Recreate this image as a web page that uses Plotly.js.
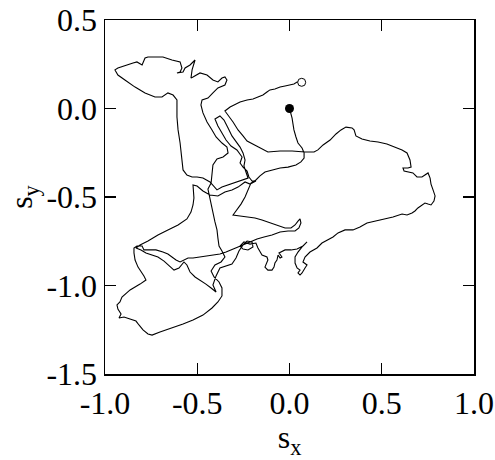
<!DOCTYPE html>
<html>
<head>
<meta charset="utf-8">
<script src="https://cdn.plot.ly/plotly-3.0.1.min.js"></script>
<style>html,body{margin:0;padding:0;background:#fff;}#chart{width:495px;height:460px;}</style>
</head>
<body>
<div id="chart"></div>
<script>
// trajectory of the spin vector (s_x, s_y)
const sx = [
0,0.008,0.014,0.019,0.024,0.035,0.046,0.068,0.079,0.079,0.062,0.035,-0.008,-0.051,-0.095,-0.133,-0.160,-0.182,-0.209,
-0.225,-0.241,-0.263,-0.285,-0.306,-0.268,-0.230,-0.187,-0.149,-0.106,-0.062,-0.024,0.008,0.030,0.046,0.057,0.062,0.051,0.030,-0.008,-0.051,-0.095,-0.138,-0.176,-0.214,-0.252,
-0.279,-0.312,-0.344,-0.377,-0.415,-0.453,-0.485,-0.523,-0.550,-0.572,-0.593,-0.615,-0.637,-0.659,-0.686,-0.724,-0.761,-0.789,-0.799,-0.827,-0.843,
-0.843,-0.837,-0.821,-0.789,-0.778,-0.810,-0.864,-0.908,-0.919,-0.935,-0.930,-0.913,-0.924,-0.897,-0.864,-0.832,-0.816,-0.794,-0.767,-0.745,-0.702,-0.637,-0.577,-0.523,-0.469,-0.420,-0.388,-0.366,-0.366,-0.382,-0.409,-0.425,-0.404,-0.371,-0.350,-0.366,-0.382,-0.388,-0.393,-0.404,-0.415,-0.425,-0.436,-0.442,-0.425,-0.420,-0.415,-0.393,-0.360,-0.333,-0.339,-0.366,-0.398,-0.420,-0.447,-0.469,-0.480,-0.474,
-0.442,-0.415,-0.388,-0.350,-0.339,-0.350,-0.366,-0.388,-0.415,-0.447,-0.485,-0.523,-0.534,-0.528,-0.512,-0.539,-0.566,-0.577,-0.610,-0.593,-0.583,-0.593,-0.637,-0.686,-0.767,-0.783,-0.799,-0.827,-0.848,-0.892,-0.930,-0.946,-0.930,-0.892,-0.837,-0.783,-0.729,-0.691,-0.659,-0.631,-0.610,-0.610,-0.604,-0.593,-0.583,-0.577,-0.556,-0.528,
-0.501,-0.469,-0.431,-0.409,-0.393,-0.366,-0.322,-0.268,-0.225,-0.236,-0.247,-0.241,-0.252,-0.268,-0.290,-0.312,-0.333,-0.355,-0.377,-0.404,-0.388,-0.366,-0.344,-0.317,-0.285,-0.257,-0.268,-0.252,-0.230,-0.220,-0.203,-0.182,-0.214,-0.241,-0.279,-0.312,-0.350,-0.388,-0.431,-0.469,-0.501,-0.523,
-0.518,-0.523,-0.534,-0.556,-0.604,-0.659,-0.713,-0.767,-0.810,-0.832,
-0.805,-0.778,-0.745,-0.713,-0.680,-0.653,-0.626,-0.599,-0.572,-0.556,-0.539,-0.512,-0.485,-0.453,-0.425,-0.398,-0.415,-0.398,-0.377,-0.344,-0.312,-0.290,-0.274,-0.252,
-0.230,-0.203,-0.198,-0.225,-0.252,-0.268,-0.247,
-0.214,-0.182,-0.171,-0.149,-0.122,-0.117,-0.133,-0.117,-0.095,-0.084,-0.079,-0.068,-0.062,-0.051,-0.041,-0.057,-0.024,0.008,0.041,0.073,0.095,0.068,0.046,0.030,0.030,0.041,0.057,0.046,0.057,0.068,0.084,0.095,0.073,0.084,0.111,0.149,0.176,0.203,0.236,0.263,0.301,0.344,0.382,0.420,0.463,0.491,0.534,0.561,0.610,0.637,0.664,0.680,0.696,0.718,0.734,0.751,0.767,0.783,0.789,0.778,0.767,0.762,0.751,0.734,0.718,0.691,0.669,0.621,0.615,0.642,0.659,0.653,0.637,0.610,0.572,0.528,0.480,0.436,0.393,0.360,0.350,0.339,0.306,0.279,0.252,0.220,0.182,0.154,0.133,0.084,0.014,-0.051,-0.117,-0.160,-0.203,-0.230,-0.252,-0.279,-0.306,-0.333,-0.350,-0.322,-0.295,-0.268,-0.230,-0.198,-0.171,-0.144,-0.122,-0.106,-0.079,-0.051,-0.024,0.003,0.024,0.041,0.066
];
const sy = [
0,-0.025,-0.054,-0.088,-0.121,-0.161,-0.195,-0.223,-0.251,-0.280,-0.302,-0.319,-0.331,-0.336,-0.347,-0.359,-0.381,-0.404,-0.421,
-0.460,-0.500,-0.540,-0.573,-0.602,-0.607,-0.613,-0.619,-0.630,-0.647,-0.664,-0.675,-0.675,-0.658,-0.636,-0.624,-0.647,-0.675,-0.692,-0.692,-0.698,-0.715,-0.726,-0.737,-0.754,-0.771,
-0.782,-0.794,-0.811,-0.822,-0.828,-0.833,-0.839,-0.845,-0.845,-0.856,-0.867,-0.856,-0.839,-0.822,-0.811,-0.799,-0.799,-0.799,-0.777,-0.777,-0.788,
-0.816,-0.856,-0.896,-0.946,-0.969,-0.992,-1.025,-1.065,-1.093,-1.110,-1.133,-1.161,-1.184,-1.178,-1.189,-1.201,-1.223,-1.251,-1.274,-1.280,-1.263,-1.240,-1.218,-1.195,-1.167,-1.127,-1.093,-1.059,-1.014,-0.980,-0.952,-0.918,-0.884,-0.867,-0.839,-0.805,-0.777,-0.732,-0.686,-0.641,-0.590,-0.540,-0.494,-0.455,-0.421,-0.376,-0.319,-0.285,-0.274,-0.251,-0.218,-0.195,-0.161,-0.121,-0.076,-0.025,0.020,0.048,
0.059,0.088,0.116,0.133,0.161,0.178,0.172,0.150,0.161,0.189,0.201,0.178,0.172,0.218,0.274,0.246,0.229,0.206,0.201,0.206,0.229,0.263,0.274,0.291,0.291,0.285,0.246,0.263,0.257,0.240,0.229,0.218,0.189,0.161,0.121,0.088,0.065,0.065,0.088,0.076,0.048,-0.048,-0.121,-0.195,-0.274,-0.347,-0.376,-0.387,
-0.387,-0.393,-0.415,-0.444,-0.460,-0.444,-0.427,-0.410,-0.393,-0.359,-0.325,-0.291,-0.251,-0.218,-0.189,-0.155,-0.110,-0.065,-0.042,-0.059,-0.099,-0.138,-0.178,-0.212,-0.234,-0.274,-0.308,-0.331,-0.353,-0.387,-0.410,-0.410,-0.427,-0.415,-0.444,-0.460,-0.472,-0.494,-0.489,-0.466,-0.438,-0.432,
-0.506,-0.545,-0.585,-0.624,-0.658,-0.686,-0.715,-0.749,-0.771,-0.788,
-0.799,-0.816,-0.828,-0.839,-0.862,-0.890,-0.913,-0.901,-0.867,-0.884,-0.924,-0.952,-0.969,-0.992,-1.014,-1.037,-0.997,-0.946,-0.901,-0.890,-0.879,-0.845,-0.805,-0.771,
-0.749,-0.754,-0.782,-0.799,-0.794,-0.777,-0.754,
-0.766,-0.760,-0.788,-0.828,-0.839,-0.856,-0.896,-0.913,-0.913,-0.896,-0.873,-0.856,-0.828,-0.845,-0.839,-0.816,-0.799,-0.799,-0.794,-0.777,-0.754,-0.782,-0.811,-0.839,-0.873,-0.901,-0.913,-0.929,-0.941,-0.929,-0.901,-0.884,-0.867,-0.839,-0.811,-0.788,-0.760,-0.743,-0.726,-0.703,-0.686,-0.686,-0.670,-0.647,-0.636,-0.630,-0.619,-0.613,-0.596,-0.602,-0.590,-0.579,-0.562,-0.545,-0.534,-0.540,-0.545,-0.523,-0.494,-0.460,-0.427,-0.393,-0.364,-0.376,-0.387,-0.387,-0.364,-0.353,-0.336,-0.336,-0.331,-0.291,-0.251,-0.234,-0.218,-0.201,-0.189,-0.184,-0.172,-0.155,-0.121,-0.110,-0.105,-0.121,-0.144,-0.178,-0.206,-0.234,-0.246,-0.246,-0.240,-0.240,-0.246,-0.223,-0.201,-0.184,-0.155,-0.121,-0.076,-0.037,-0.014,0.008,0.025,0.037,0.048,0.054,0.065,0.076,0.093,0.105,0.110,0.121,0.127,0.133,0.138,0.150,0.148
];
const xTicks = [-1.0, -0.5, 0.0, 0.5, 1.0];
const yTicks = [-1.5, -1.0, -0.5, 0.0, 0.5];
const xLabels = ["-1.0", "-0.5", "0.0", "0.5", "1.0"];
const yLabels = ["-1.5", "-1.0", "-0.5", "0.0", "0.5"];

const n = Math.min(sx.length, sy.length);
const X = sx.slice(0, n), Y = sy.slice(0, n);

const font = {family: "'Liberation Serif', 'Times New Roman', serif", size: 32, color: "#000"};

const traces = [
  {x: X, y: Y, mode: "lines", type: "scatter", line: {color: "#000", width: 1.1}, hoverinfo: "skip"},
  {x: [X[0]], y: [Y[0]], mode: "markers", type: "scatter", marker: {color: "#000", size: 9}},
  {x: [X[n-1]], y: [Y[n-1]], mode: "markers", type: "scatter", marker: {color: "#fff", size: 8, line: {color: "#000", width: 1}}}
];

const axisCommon = {
  showgrid: false, zeroline: false, showline: true, linecolor: "#000", linewidth: 1.5,
  mirror: "ticks", ticks: "inside", ticklen: 11, tickwidth: 1.2, tickcolor: "#000",
  tickfont: font
};

const layout = {
  width: 495, height: 460,
  margin: {l: 105, r: 21, t: 20, b: 86},
  paper_bgcolor: "#fff", plot_bgcolor: "#fff",
  showlegend: false,
  xaxis: Object.assign({}, axisCommon, {
    range: [-1, 1], tickvals: xTicks, ticktext: xLabels,
    title: {text: "s<sub>x</sub>", font: font, standoff: 4}
  }),
  yaxis: Object.assign({}, axisCommon, {
    range: [-1.5, 0.5], tickvals: yTicks, ticktext: yLabels,
    title: {text: "s<sub>y</sub>", font: font, standoff: 4}
  })
};

Plotly.newPlot("chart", traces, layout, {staticPlot: true, displayModeBar: false});
</script>
</body>
</html>
